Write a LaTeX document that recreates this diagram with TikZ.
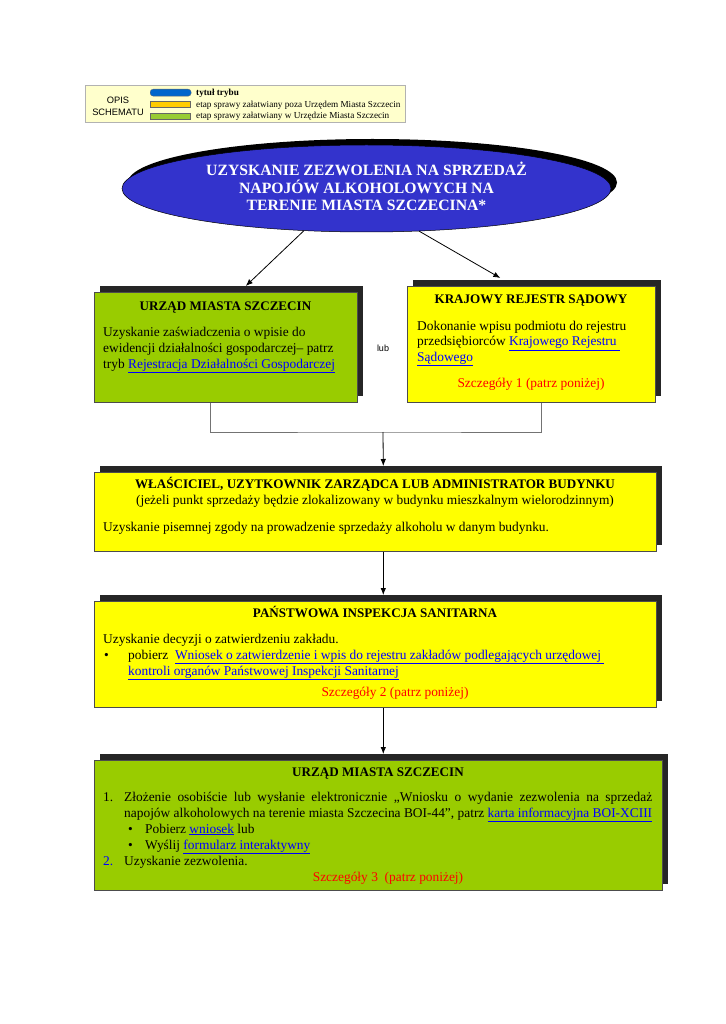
\documentclass[tikz,border=0pt]{standalone}
\usepackage{fontspec}
\setmainfont{Liberation Serif}
\newfontfamily\sansf{Liberation Sans}
\usetikzlibrary{shapes.geometric,shadows,arrows.meta,calc}
\definecolor{titleblue}{HTML}{3333CC}
\definecolor{boxgreen}{HTML}{99CC00}
\definecolor{boxyellow}{HTML}{FFFF00}
\definecolor{shadowgray}{HTML}{262626}
\definecolor{linkblue}{HTML}{0000FF}
\definecolor{detailred}{HTML}{FF0000}
\definecolor{legendbg}{HTML}{FFFFCC}
\definecolor{legblue}{HTML}{0066CC}
\definecolor{legyellow}{HTML}{FFCC00}
\definecolor{leggreen}{HTML}{99CC33}
\newcommand\lnk[1]{\textcolor{linkblue}{\underline{#1}}}
\newcommand\bodyfont{\fontsize{13.4}{16}\selectfont}
\newcommand\headfont{\fontsize{13.1}{15}\selectfont\bfseries}
\begin{document}
\begin{tikzpicture}[x=1pt,y=-1pt,
  stagebox/.style={draw=black!70, line width=0.6pt, inner sep=0pt, anchor=north west,
    drop shadow={shadow xshift=6pt, shadow yshift=6pt, fill=shadowgray, opacity=1}},
  greenbox/.style={stagebox, fill=boxgreen},
  yellowbox/.style={stagebox, fill=boxyellow},
  bodytxt/.style={inner sep=0pt, anchor=base west, font=\bodyfont},
  bodyctr/.style={inner sep=0pt, anchor=base, font=\bodyfont},
  headtxt/.style={inner sep=0pt, anchor=base, font=\headfont},
  redtxt/.style={bodyctr, text=detailred},
  legtxt/.style={inner sep=0pt, anchor=base west, font=\fontsize{9.2}{10}\selectfont},
  legbar/.style={draw=black!60, line width=0.3pt, inner sep=0pt, anchor=north west, minimum width=40pt, minimum height=6pt},
  arr/.style={draw=black, line width=0.8pt, -{Latex[length=7pt,width=5.5pt]}},
  joinline/.style={draw=black!55, line width=0.8pt}
]
\useasboundingbox (0,0) rectangle (725,1024);

% legend
\node[draw=black!30, fill=legendbg, line width=0.5pt, inner sep=0pt, anchor=north west,
  minimum width=320pt, minimum height=37pt] (legend) at (85,85) {};
\node[inner sep=0pt, font=\sansf\fontsize{9.3}{11}\selectfont] (opis) at (118,100) {OPIS};
\node[inner sep=0pt, font=\sansf\fontsize{9.3}{11}\selectfont] (schem) at (118,112) {SCHEMATU};
\node[legbar, fill=legblue, rounded corners=3pt, minimum width=41pt, minimum height=7pt] (lbblue) at (150,89) {};
\node[legbar, fill=legyellow] (lbyellow) at (150,101) {};
\node[legbar, fill=leggreen] (lbgreen) at (150,113) {};
\node[legtxt, font=\fontsize{9.2}{10}\selectfont\bfseries] (lt1) at (196,96) {tytuł trybu};
\node[legtxt] (lt2) at (196,107.5) {etap sprawy załatwiany poza Urzędem Miasta Szczecin};
\node[legtxt] (lt3) at (196,119) {etap sprawy załatwiany w Urzędzie Miasta Szczecin};

% title ellipse
\node[ellipse, draw=black, line width=0.5pt, fill=titleblue, minimum width=489pt, minimum height=87pt,
  inner sep=0pt, drop shadow={shadow xshift=6pt, shadow yshift=6pt, fill=black, opacity=1}]
  (title) at (366.5,188.5) {};
\node[inner sep=0pt, text=white, font=\fontsize{15.7}{17.5}\selectfont\bfseries, align=center]
  (titletxt) at (366.5,186.5) {UZYSKANIE ZEZWOLENIA NA SPRZEDAŻ\\NAPOJÓW ALKOHOLOWYCH NA\\TERENIE MIASTA SZCZECINA*};

% box 1 (green)
\node[greenbox, minimum width=263pt, minimum height=110pt] (b1) at (94,292) {};
\node[headtxt] (b1h) at (225.5,310) {URZĄD MIASTA SZCZECIN};
\node[bodytxt] (b1a) at (103,336) {Uzyskanie zaświadczenia o wpisie do};
\node[bodytxt] (b1b) at (103,352) {ewidencji działalności gospodarczej– patrz};
\node[bodytxt] (b1c) at (103,368) {tryb \lnk{Rejestracja Działalności Gospodarczej}};

% lub
\node[inner sep=0pt, font=\sansf\fontsize{9}{10}\selectfont] (lub) at (383,348) {lub};

% box 2 (yellow)
\node[yellowbox, minimum width=248pt, minimum height=116pt] (b2) at (407,286) {};
\node[headtxt] (b2h) at (531,303.5) {KRAJOWY REJESTR SĄDOWY};
\node[bodytxt] (b2a) at (417,330) {Dokonanie wpisu podmiotu do rejestru};
\node[bodytxt] (b2b) at (417,345.5) {przedsiębiorców \lnk{Krajowego Rejestru\ }};
\node[bodytxt] (b2c) at (417,361) {\lnk{Sądowego}};
\node[redtxt] (b2r) at (531,387) {Szczegóły 1 (patrz poniżej)};

% box 3 (yellow)
\node[yellowbox, minimum width=562pt, minimum height=79pt] (b3) at (94,472) {};
\node[headtxt] (b3h) at (375,488) {WŁAŚCICIEL, UZYTKOWNIK ZARZĄDCA LUB ADMINISTRATOR BUDYNKU};
\node[bodyctr] (b3s) at (375,504) {(jeżeli punkt sprzedaży będzie zlokalizowany w budynku mieszkalnym wielorodzinnym)};
\node[bodytxt] (b3a) at (103,531) {Uzyskanie pisemnej zgody na prowadzenie sprzedaży alkoholu w danym budynku.};

% box 4 (yellow)
\node[yellowbox, minimum width=562pt, minimum height=106pt] (b4) at (94,601) {};
\node[headtxt] (b4h) at (375,617) {PAŃSTWOWA INSPEKCJA SANITARNA};
\node[bodytxt] (b4a) at (103,643) {Uzyskanie decyzji o zatwierdzeniu zakładu.};
\node[bodytxt] (b4bul) at (104,659) {•};
\node[bodytxt] (b4b) at (128,659) {pobierz\ \ \lnk{Wniosek o zatwierdzenie i wpis do rejestru zakładów podlegających urzędowej\ }};
\node[bodytxt] (b4c) at (128,675) {\lnk{kontroli organów Państwowej Inspekcji Sanitarnej}};
\node[redtxt] (b4r) at (395,696) {Szczegóły 2 (patrz poniżej)};

% box 5 (green)
\node[greenbox, minimum width=568pt, minimum height=130pt] (b5) at (94,760) {};
\node[headtxt] (b5h) at (378,776) {URZĄD MIASTA SZCZECIN};
\node[bodytxt] (b5n1) at (103,801) {1.};
\node[bodytxt] (b5a) at (124,801) {\makebox[528pt][s]{Złożenie osobiście lub wysłanie elektronicznie „Wniosku o wydanie zezwolenia na sprzedaż}};
\node[bodytxt] (b5b) at (124,817) {napojów alkoholowych na terenie miasta Szczecina BOI-44”, patrz \lnk{karta informacyjna BOI-XCIII}};
\node[bodytxt] (b5bul1) at (128,833) {•};
\node[bodytxt] (b5c) at (145,833) {Pobierz \lnk{wniosek} lub};
\node[bodytxt] (b5bul2) at (128,849) {•};
\node[bodytxt] (b5d) at (145,849) {Wyślij \lnk{formularz interaktywny}};
\node[bodytxt, text=linkblue] (b5n2) at (103,865) {2.};
\node[bodytxt] (b5e) at (124,865) {Uzyskanie zezwolenia.};
\node[redtxt] (b5r) at (388,881) {Szczegóły 3\ \ (patrz poniżej)};

% connectors
\draw[arr] (title.214.5) -- ([xshift=20pt,yshift=6pt]b1.north);
\draw[arr] (title.321.8) -- ([xshift=-31pt,yshift=8pt]b2.north);
\coordinate (join) at (383,432);
\draw[joinline] ([xshift=-15.5pt]b1.south) |- (join) -| ([xshift=10pt]b2.south);
\draw[arr] (join) -- ([xshift=8pt,yshift=6pt]b3.north);
\draw[arr] ([xshift=8pt]b3.south) -- ([xshift=8pt,yshift=6pt]b4.north);
\draw[arr] ([xshift=8pt]b4.south) -- ([xshift=5pt,yshift=6pt]b5.north);
\end{tikzpicture}
\end{document}
